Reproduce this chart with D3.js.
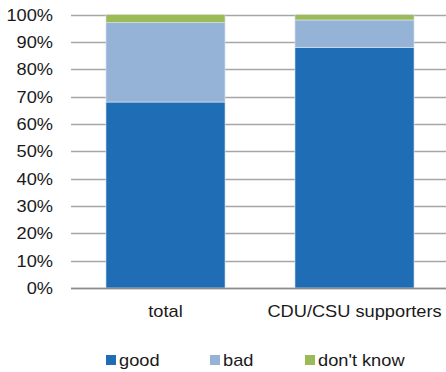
<!DOCTYPE html>
<html>
<head>
<meta charset="utf-8">
<script src="https://cdn.jsdelivr.net/npm/d3@7"></script>
<style>
  body { margin: 0; background: #fff; }
  text { font-family: "Liberation Sans", Arial, sans-serif; fill: #1a1a1a; }
</style>
</head>
<body>
<div id="chart"></div>
<script>
// Data
var categories = ["total", "CDU/CSU supporters"];
var seriesNames = ["good", "bad", "don't know"];
var good = [68, 88];
var bad = [29, 10];
var dontKnow = [3, 2];
var tickValues = [0, 10, 20, 30, 40, 50, 60, 70, 80, 90, 100];
var colors = ["#1f6eb5", "#95b3d7", "#9bbb59"];

var width = 446;
var height = 372;
var plotLeft = 71, plotRight = 449, plotTop = 14.5, plotBottom = 288;
var fontSize = 16;
var stretch = 1.14; // text in the reference is slightly wide

var svg = d3.select("#chart")
  .append("svg")
  .attr("width", width)
  .attr("height", height);

var xScale = d3.scaleBand()
  .domain(categories)
  .range([plotLeft, plotRight])
  .paddingInner(0.37)
  .paddingOuter(0.185);

var yScale = d3.scaleLinear()
  .domain([0, 100])
  .range([plotBottom, plotTop]);

function placeText(x, y) {
  return "translate(" + x + "," + y + ") scale(" + stretch + ",1)";
}

// gridlines
svg.append("g")
  .selectAll("line")
  .data(tickValues)
  .enter()
  .append("line")
  .attr("x1", plotLeft)
  .attr("x2", width)
  .attr("y1", function(d) { return Math.round(yScale(d)) + 0.5; })
  .attr("y2", function(d) { return Math.round(yScale(d)) + 0.5; })
  .attr("stroke", "#a6a6a6")
  .attr("stroke-width", 1.3);

// y tick labels
svg.append("g")
  .selectAll("text")
  .data(tickValues)
  .enter()
  .append("text")
  .attr("transform", function(d) { return placeText(53, yScale(d) + 6); })
  .attr("text-anchor", "end")
  .attr("font-size", fontSize)
  .text(function(d) { return d + "%"; });

// stacked bars
var rows = categories.map(function(c, i) {
  return { cat: c, "good": good[i], "bad": bad[i], "don't know": dontKnow[i] };
});
var stacked = d3.stack().keys(seriesNames)(rows);

svg.append("g")
  .selectAll("g")
  .data(stacked)
  .enter()
  .append("g")
  .attr("fill", function(d, i) { return colors[i]; })
  .selectAll("rect")
  .data(function(d) { return d; })
  .enter()
  .append("rect")
  .attr("x", function(d) { return xScale(d.data.cat); })
  .attr("width", xScale.bandwidth())
  .attr("y", function(d) { return yScale(d[1]); })
  .attr("height", function(d) { return yScale(d[0]) - yScale(d[1]); })
  .attr("stroke", "#dce6f1")
  .attr("stroke-width", 0.6);

// baseline
svg.append("line")
  .attr("x1", plotLeft).attr("x2", width)
  .attr("y1", plotBottom + 0.5).attr("y2", plotBottom + 0.5)
  .attr("stroke", "#8c8c8c")
  .attr("stroke-width", 1.3);

// category labels
svg.append("g")
  .selectAll("text")
  .data(categories)
  .enter()
  .append("text")
  .attr("transform", function(d) {
    return placeText(xScale(d) + xScale.bandwidth() / 2, 317);
  })
  .attr("text-anchor", "middle")
  .attr("font-size", fontSize)
  .text(function(d) { return d; });

// legend
var legendX = [106, 210, 305];
var legend = svg.append("g")
  .selectAll("g")
  .data(seriesNames)
  .enter()
  .append("g")
  .attr("transform", function(d, i) { return "translate(" + legendX[i] + ",355)"; });

legend.append("rect")
  .attr("width", 10)
  .attr("height", 10)
  .attr("fill", function(d, i) { return colors[i]; });

legend.append("text")
  .attr("transform", placeText(13, 11))
  .attr("font-size", fontSize)
  .text(function(d) { return d; });
</script>
</body>
</html>
